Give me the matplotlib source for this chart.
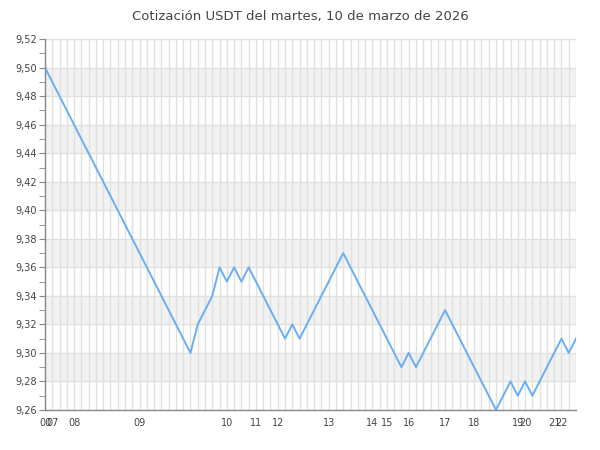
import numpy as np
import matplotlib
matplotlib.use('Agg')
import matplotlib.pyplot as plt
from matplotlib.ticker import MultipleLocator, FuncFormatter

title = 'Cotización USDT del martes, 10 de marzo de 2026'

# one quote per point
prices = [
    9.50, 9.49, 9.48, 9.47, 9.46, 9.45, 9.44, 9.43, 9.42, 9.41,
    9.40, 9.39, 9.38, 9.37, 9.36, 9.35, 9.34, 9.33, 9.32, 9.31,
    9.30, 9.32, 9.33, 9.34, 9.36, 9.35, 9.36, 9.35, 9.36, 9.35,
    9.34, 9.33, 9.32, 9.31, 9.32, 9.31, 9.32, 9.33, 9.34, 9.35,
    9.36, 9.37, 9.36, 9.35, 9.34, 9.33, 9.32, 9.31, 9.30, 9.29,
    9.30, 9.29, 9.30, 9.31, 9.32, 9.33, 9.32, 9.31, 9.30, 9.29,
    9.28, 9.27, 9.26, 9.27, 9.28, 9.27, 9.28, 9.27, 9.28, 9.29,
    9.30, 9.31, 9.30, 9.31,
]

# first quote of each hour (index into prices)
hour_labels = ['00', '07', '08', '09', '10', '11', '12', '13', '14',
               '15', '16', '17', '18', '19', '20', '21', '22']
hour_index = [0, 1, 4, 13, 25, 29, 32, 39, 45, 47, 50, 55, 59, 65, 66, 70, 71]

y_min, y_max = 9.26, 9.52

fig = plt.figure(figsize=(6, 4.5), dpi=100)
ax = fig.add_axes([0.075, 0.089, 0.885, 0.824])

x = np.arange(len(prices))

# alternating bands
for lo in np.arange(y_min, y_max, 0.04):
    ax.axhspan(lo + 0.02, lo + 0.04, color='#f2f2f2', zorder=0, lw=0)
for yv in np.arange(y_min, y_max + 0.001, 0.02):
    ax.axhline(yv, color='#e0e0e0', lw=1, zorder=1)
for xv in x:
    ax.axvline(xv, color='#e0e0e0', lw=1, zorder=1)

ax.plot(x, prices, color='#6aaef2', lw=1.4, zorder=3)

ax.set_xlim(0, len(prices) - 1)
ax.set_ylim(y_min, y_max)

ax.yaxis.set_major_locator(MultipleLocator(0.02))
ax.yaxis.set_minor_locator(MultipleLocator(0.01))
ax.yaxis.set_major_formatter(FuncFormatter(lambda v, p: f'{v:.2f}'.replace('.', ',')))
ax.tick_params(axis='y', which='both', length=4, color='#888888', labelsize=7, labelcolor='#444444', pad=2)

ax.set_xticks(hour_index)
ax.set_xticklabels(hour_labels)
ax.tick_params(axis='x', length=0, labelsize=7, labelcolor='#444444', pad=6)

for s in ['top', 'right']:
    ax.spines[s].set_visible(False)
for s in ['left', 'bottom']:
    ax.spines[s].set_color('#888888')
    ax.spines[s].set_linewidth(1)
    ax.spines[s].set_zorder(4)

fig.suptitle(title, fontsize=9.5, color='#444444', y=0.977)

fig.savefig('out.png', dpi=100)
